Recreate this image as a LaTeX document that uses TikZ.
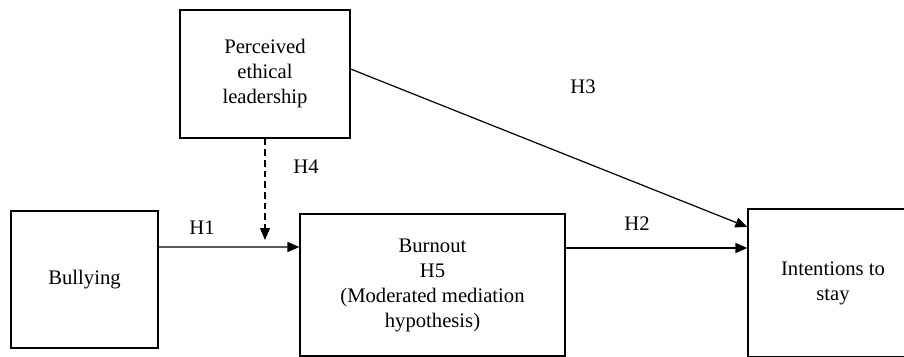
\documentclass[tikz,border=0pt]{standalone}
\usepackage{fontspec}
\setmainfont{Liberation Serif}
\usetikzlibrary{arrows.meta}
\tikzset{
  varbox/.style={draw, line width=0.9pt, align=center, inner sep=0pt,
    font=\fontsize{15.5}{18.75}\selectfont},
  hlabel/.style={font=\fontsize{15.5}{18.75}\selectfont, inner sep=0pt},
  path/.style={line width=0.9pt, -{Triangle[length=9pt, width=7.5pt]}}
}
\begin{document}
\begin{tikzpicture}[x=0.75pt, y=-0.75pt]
\useasboundingbox (0,0) rectangle (904,357);
\clip (0,0) rectangle (904,357);
\node[varbox, minimum width=127.5pt, minimum height=96pt] (pel) at (265,74) {Perceived\\ethical\\leadership};
\node[varbox, minimum width=110.25pt, minimum height=102.75pt] (bully) at (84.5,279.5) {Bullying};
\node[varbox, minimum width=198.75pt, minimum height=106.5pt] (burn) at (432.5,285) {Burnout\\H5\\(Moderated mediation\\hypothesis)};
\node[varbox, minimum width=127.5pt, minimum height=111pt] (stay) at (833,283) {Intentions to\\stay};
\coordinate (mod) at (265,240);
\draw[path] ([yshift=24.4pt]bully.east) -- ([yshift=28.5pt]burn.west);
\draw[path] ([yshift=27.75pt]burn.east) -- ([yshift=26.25pt]stay.west);
\draw[path] ([yshift=3.75pt]pel.east) -- ([yshift=42pt]stay.west);
\draw[path, dashed, dash pattern=on 5pt off 3pt] (pel.south) -- (mod);
\node[hlabel] (h1) at (202,228) {H1};
\node[hlabel] (h2) at (637,224) {H2};
\node[hlabel] (h3) at (583,87) {H3};
\node[hlabel] (h4) at (306,167) {H4};
\end{tikzpicture}
\end{document}
